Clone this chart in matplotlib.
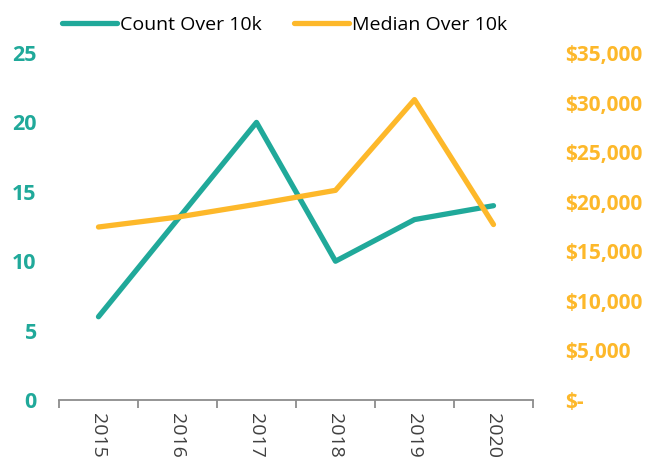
import numpy as np
import matplotlib.pyplot as plt
from matplotlib.ticker import FuncFormatter, FixedLocator

years = ['2015', '2016', '2017', '2018', '2019', '2020']
count_over_10k = [6, 13, 20, 10, 13, 14]
median_over_10k = [17450, 18450, 19750, 21150, 30300, 17700]

teal = '#20A99A'
gold = '#FDB82A'

plt.rcParams['font.family'] = ['Open Sans', 'DejaVu Sans']

fig = plt.figure(figsize=(6.65, 4.59), dpi=100)
ax = fig.add_axes([0.0887, 0.1285, 0.7128, 0.756])
ax2 = ax.twinx()

x = np.arange(len(years))
l1, = ax.plot(x, count_over_10k, color=teal, lw=3.8, solid_capstyle='round',
              solid_joinstyle='round', label='Count Over 10k')
l2, = ax2.plot(x, median_over_10k, color=gold, lw=3.8, solid_capstyle='round',
               solid_joinstyle='round', label='Median Over 10k')

ax.set_xlim(-0.5, len(years) - 0.5)
ax.set_ylim(0, 25)
ax2.set_ylim(0, 35000)
ax.set_yticks(range(0, 26, 5))
ax2.set_yticks(range(0, 35001, 5000))

def money(v, pos):
    if v == 0:
        return '$-'
    return '${:,.0f}'.format(v)

ax2.yaxis.set_major_formatter(FuncFormatter(money))

for a in (ax, ax2):
    for s in ('top', 'left', 'right'):
        a.spines[s].set_visible(False)
ax2.spines['bottom'].set_visible(False)
ax.spines['bottom'].set_color('#8c8c8c')
ax.spines['bottom'].set_linewidth(1.3)

ax.set_xticks(x)
ax.set_xticklabels(years, rotation=270, fontsize=14, color='#404040')
ax.tick_params(axis='x', length=0, pad=9)
ax.xaxis.set_minor_locator(FixedLocator(np.arange(-0.5, len(years), 1)))
ax.tick_params(axis='x', which='minor', length=6, width=1.3, color='#8c8c8c')

ax.tick_params(axis='y', length=0, pad=16, labelsize=15.5, labelcolor=teal)
ax2.tick_params(axis='y', length=0, pad=23, labelsize=15, labelcolor=gold)
for lab in ax.get_yticklabels():
    lab.set_fontweight('bold')
for lab in ax2.get_yticklabels():
    lab.set_fontweight('bold')

fig.legend([l1, l2], ['Count Over 10k', 'Median Over 10k'], loc='center',
           bbox_to_anchor=(0.428, 0.945), ncol=2, frameon=False, fontsize=14,
           handlelength=2.8, handletextpad=0.15, columnspacing=1.7)

plt.savefig('out.png', dpi=100)
